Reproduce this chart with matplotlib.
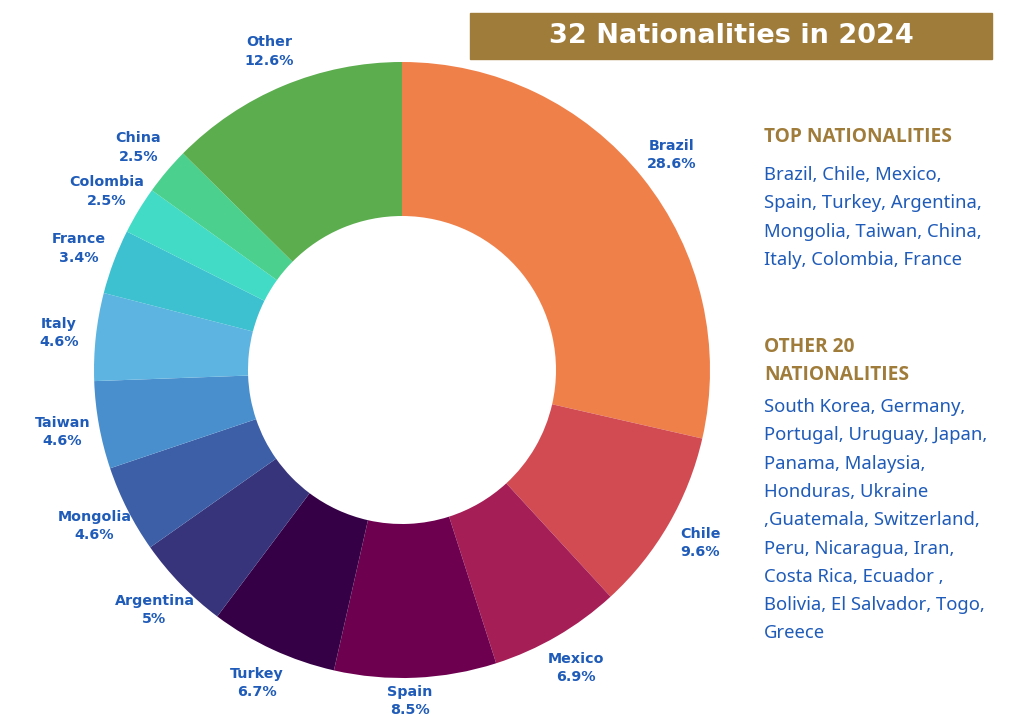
import matplotlib.pyplot as plt
from matplotlib.patches import Rectangle

# slice data, clockwise from top
countries = ['Brazil', 'Chile', 'Mexico', 'Spain', 'Turkey', 'Argentina',
             'Mongolia', 'Taiwan', 'Italy', 'France', 'Colombia', 'China', 'Other']
shares = [28.6, 9.6, 6.9, 8.5, 6.7, 5, 4.6, 4.6, 4.6, 3.4, 2.5, 2.5, 12.6]
colors = ['#F0804A', '#D24B52', '#A51E56', '#6E0050', '#350046', '#38347C',
          '#3C5FA8', '#4A8FCD', '#5EB4E0', '#3DC0D0', '#42DBC6', '#4CD08E', '#5BAD4E']

title = '32 Nationalities in 2024'
top_head = ['TOP NATIONALITIES']
top_lines = ['Brazil, Chile, Mexico,', 'Spain, Turkey, Argentina,',
             'Mongolia, Taiwan, China,', 'Italy, Colombia, France']
other_head = ['OTHER 20', 'NATIONALITIES']
other_lines = ['South Korea, Germany,', 'Portugal, Uruguay, Japan,',
               'Panama, Malaysia,', 'Honduras, Ukraine', ',Guatemala, Switzerland,',
               'Peru, Nicaragua, Iran,', 'Costa Rica, Ecuador ,',
               'Bolivia, El Salvador, Togo,', 'Greece']

W, H = 1024, 724
BLUE = '#1F5BB8'
GOLD = '#A07C3A'

fig = plt.figure(figsize=(W / 100, H / 100), dpi=100)
fig.patch.set_facecolor('white')

# donut axes: centre at (402, 370) px, radius 308 px
L = 1.15
S = 308 * 2 * L
cx, cy = 402, H - 370
ax = fig.add_axes([(cx - S / 2) / W, (cy - S / 2) / H, S / W, S / H])

labels = ['{}\n{:g}%'.format(c, s) for c, s in zip(countries, shares)]
wedges, texts = ax.pie(shares, colors=colors, startangle=90, counterclock=False,
                       labels=labels, labeldistance=1.12,
                       wedgeprops=dict(width=0.5, linewidth=0),
                       textprops=dict(color=BLUE, fontsize=10.3, fontweight='bold',
                                      family='DejaVu Sans'))
for t in texts:
    t.set_ha('center')
    t.set_va('center')
    t.set_linespacing(1.4)
# Spain sits a bit closer to the ring so it stays inside the picture
x, y = texts[3].get_position()
texts[3].set_position((x * 0.5, y * 1.075 / 1.12))

ax.set_xlim(-L, L)
ax.set_ylim(-L, L)
ax.set_aspect('equal')
ax.axis('off')

# title banner
fig.patches.append(Rectangle((470 / W, 1 - 59 / H), 522 / W, 46 / H,
                             transform=fig.transFigure, color=GOLD, zorder=0))
fig.text(731 / W, 1 - 36 / H, title, color='white', fontsize=19.5, fontweight='bold',
         ha='center', va='center', family='DejaVu Sans')

# right side text blocks
def block(lines, y0, step, **kw):
    for i, s in enumerate(lines):
        fig.text(764 / W, 1 - (y0 + i * step) / H, s, ha='left', va='center', **kw)

block(top_head, 137, 28, color=GOLD, fontsize=13.8, fontweight='bold', family='Open Sans')
block(top_lines, 175, 28.4, color=BLUE, fontsize=13.3, family='Noto Sans')
block(other_head, 347, 28, color=GOLD, fontsize=13.8, fontweight='bold', family='Open Sans')
block(other_lines, 407, 28.3, color=BLUE, fontsize=13.3, family='Noto Sans')

fig.savefig('out.png', dpi=100, facecolor='white')
